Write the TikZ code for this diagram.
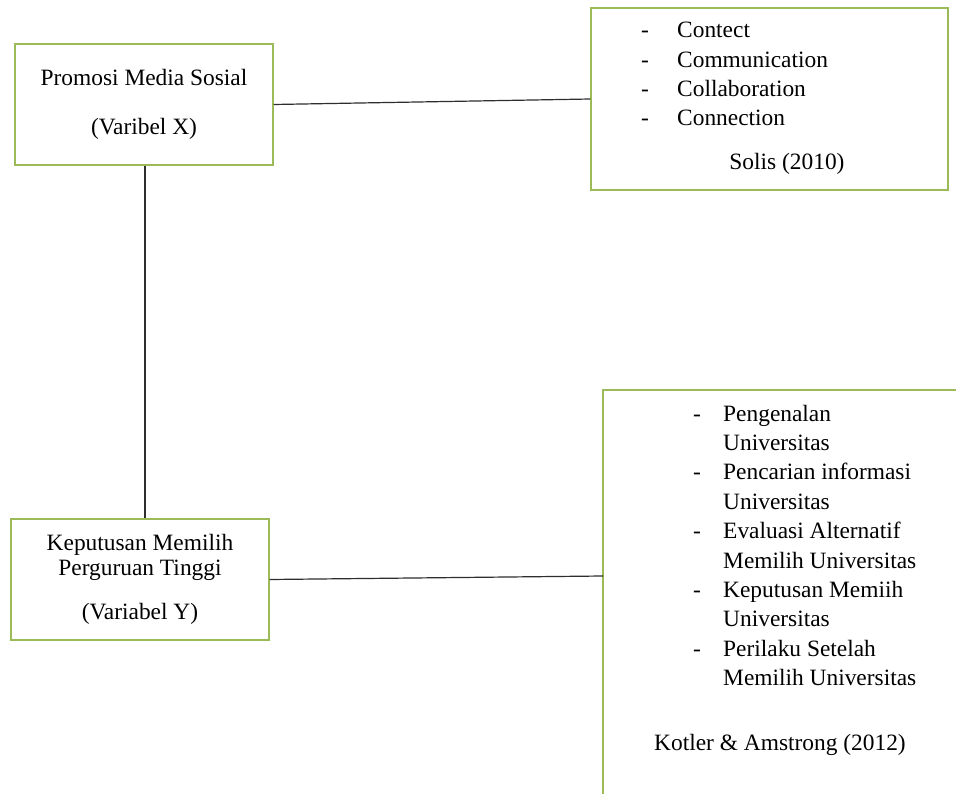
\documentclass[tikz,border=0pt]{standalone}
\usepackage{fontspec}
\setmainfont{Liberation Serif}
\usetikzlibrary{positioning}
\definecolor{boxgreen}{HTML}{9BBB59}
\definecolor{linegray}{HTML}{2E2E2E}

\begin{document}
\begin{tikzpicture}[x=1pt, y=-1pt, font=\fontsize{23.4}{29.4}\selectfont,
    varbox/.style={draw=boxgreen, line width=1.1pt, inner sep=0pt, align=center},
    link/.style={draw=linegray, line width=1.2pt}]
    \useasboundingbox (0,0) rectangle (956,794);
    \fill[white] (0,0) rectangle (956,794);

    % Variable boxes
    \node[varbox, minimum width=258pt, minimum height=121pt] (varX) at (144,104.5)
        {Promosi Media Sosial\\[20pt](Varibel X)};
    \node[varbox, minimum width=258pt, minimum height=121pt,
          font=\fontsize{23.4}{25}\selectfont] (varY) at (140,579.5)
        {Keputusan Memilih\\Perguruan Tinggi\\[19pt](Variabel Y)};

    % Indicator box X
    \node[varbox, minimum width=357pt, minimum height=182pt] (indX) at (769.5,99) {};
    \foreach \t [count=\i] in {Contect, Communication, Collaboration, Connection}
    {
        \node[anchor=base, inner sep=0pt] (xdash\i) at (645,{38+(\i-1)*29.3}) {-};
        \node[anchor=base west, inner sep=0pt] (xitem\i) at (677,{38+(\i-1)*29.3}) {\t};
    }
    \node[anchor=base, inner sep=0pt] (xsource) at (787,170) {Solis (2010)};

    % Indicator box Y (runs off the page)
    \coordinate (indYnw) at (603,390);
    \coordinate (indYw) at (603,576);
    \draw[draw=boxgreen, line width=1.1pt] (956,390) -- (indYnw) -- (603,794);
    \foreach \a/\b [count=\i] in {Pengenalan/Universitas,
                                  Pencarian informasi/Universitas,
                                  Evaluasi Alternatif/Memilih Universitas,
                                  Keputusan Memiih/Universitas,
                                  Perilaku Setelah/Memilih Universitas}
    {
        \node[anchor=base, inner sep=0pt] (ydash\i) at (697,{421+(\i-1)*58.8}) {-};
        \node[anchor=base west, inner sep=0pt] (yitem\i) at (723,{421+(\i-1)*58.8}) {\a};
        \node[anchor=base west, inner sep=0pt] (ycont\i) at (723,{450.4+(\i-1)*58.8}) {\b};
    }
    \node[anchor=base, inner sep=0pt] (ysource) at (780,750) {Kotler \& Amstrong (2012)};

    % Connectors
    \draw[link] (varX.east) -- (indX.west);
    \draw[link] ([xshift=1pt]varX.south) -- ([xshift=1pt]varX.south |- varY.north);
    \draw[link] (varY.east) -- (indYw);
\end{tikzpicture}
\end{document}
